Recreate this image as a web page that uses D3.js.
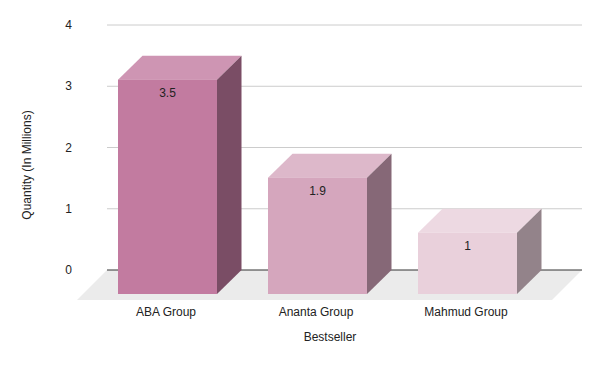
<!DOCTYPE html>
<html>
<head>
<meta charset="utf-8">
<script src="https://cdn.jsdelivr.net/npm/d3@7"></script>
<style>
  body { margin: 0; background: #fff; }
  text { font-family: "Liberation Sans", Arial, sans-serif; fill: #222; }
</style>
</head>
<body>
<script>
// data
const categories = ['ABA Group', 'Ananta Group', 'Mahmud Group'];
const values = [3.5, 1.9, 1];
const yTicks = [0, 1, 2, 3, 4];
const frontColors = ['#c27ba0', '#d5a6bd', '#e9d0db'];

const width = 600, height = 371;
// 3D depth offset: back plane is shifted right/up from the front plane
const depth = { dx: 24.5, dy: 24 };
const floorDepth = 30;

const svg = d3.select('body').append('svg')
  .attr('width', width)
  .attr('height', height);

// y on the back plane (where gridlines live)
const y = d3.scaleLinear().domain([0, 4]).range([270, 25]);
// x on the front plane
const x = d3.scaleBand().domain(categories).range([92.5, 542.5])
  .paddingInner(0.34).paddingOuter(0.17);

const gridLeft = 107, gridRight = 582;

// gridlines
svg.append('g').selectAll('line')
  .data(yTicks.filter((t) => t !== 0))
  .join('line')
  .attr('x1', gridLeft).attr('x2', gridRight)
  .attr('y1', (d) => y(d)).attr('y2', (d) => y(d))
  .attr('stroke', '#cccccc').attr('stroke-width', 1);

// floor
const y0 = y(0);
svg.append('path')
  .attr('d', `M${gridLeft},${y0}L${gridRight},${y0}L${gridRight - floorDepth},${y0 + floorDepth}L${gridLeft - floorDepth},${y0 + floorDepth}Z`)
  .attr('fill', '#ebebeb');

// zero line
svg.append('line')
  .attr('x1', gridLeft).attr('x2', gridRight)
  .attr('y1', y0).attr('y2', y0)
  .attr('stroke', '#333333').attr('stroke-width', 1);

// y tick labels
svg.append('g').selectAll('text')
  .data(yTicks)
  .join('text')
  .attr('x', 72)
  .attr('y', (d) => y(d) + 4)
  .attr('text-anchor', 'end')
  .attr('font-size', 12)
  .text((d) => d);

const shade = (c, k) => d3.rgb(c).darker(k).formatHex();
const tint = (c, t) => d3.interpolateRgb(c, '#ffffff')(t);

// bars
const bars = svg.append('g').selectAll('g')
  .data(categories.map((c, i) => ({ cat: c, value: values[i], color: frontColors[i] })))
  .join('g');

bars.each(function (d) {
  const g = d3.select(this);
  const x0 = x(d.cat), x1 = x0 + x.bandwidth();
  const top = y(d.value) + depth.dy;
  const bottom = y0 + depth.dy;
  const dx = depth.dx, dy = depth.dy;
  // top face
  g.append('path')
    .attr('d', `M${x0},${top}L${x0 + dx},${top - dy}L${x1 + dx},${top - dy}L${x1},${top}Z`)
    .attr('fill', tint(d.color, 0.2));
  // side face
  g.append('path')
    .attr('d', `M${x1},${top}L${x1 + dx},${top - dy}L${x1 + dx},${bottom - dy}L${x1},${bottom}Z`)
    .attr('fill', shade(d.color, 1.3));
  // front face
  g.append('rect')
    .attr('x', x0).attr('y', top)
    .attr('width', x.bandwidth()).attr('height', bottom - top)
    .attr('fill', d.color);
  // value label
  g.append('text')
    .attr('x', x0 + x.bandwidth() / 2)
    .attr('y', top + 17)
    .attr('text-anchor', 'middle')
    .attr('font-size', 12)
    .text(d.value);
});

// category labels
svg.append('g').selectAll('text')
  .data(categories)
  .join('text')
  .attr('x', (d) => x(d) + x.bandwidth() / 2 - 1.5)
  .attr('y', 316)
  .attr('text-anchor', 'middle')
  .attr('font-size', 12)
  .text((d) => d);

// axis titles
svg.append('text')
  .attr('x', 330).attr('y', 341)
  .attr('text-anchor', 'middle')
  .attr('font-size', 12)
  .text('Bestseller');

svg.append('text')
  .attr('transform', 'translate(31,165) rotate(-90)')
  .attr('text-anchor', 'middle')
  .attr('font-size', 12)
  .text('Quantity (In Millions)');
</script>
</body>
</html>
